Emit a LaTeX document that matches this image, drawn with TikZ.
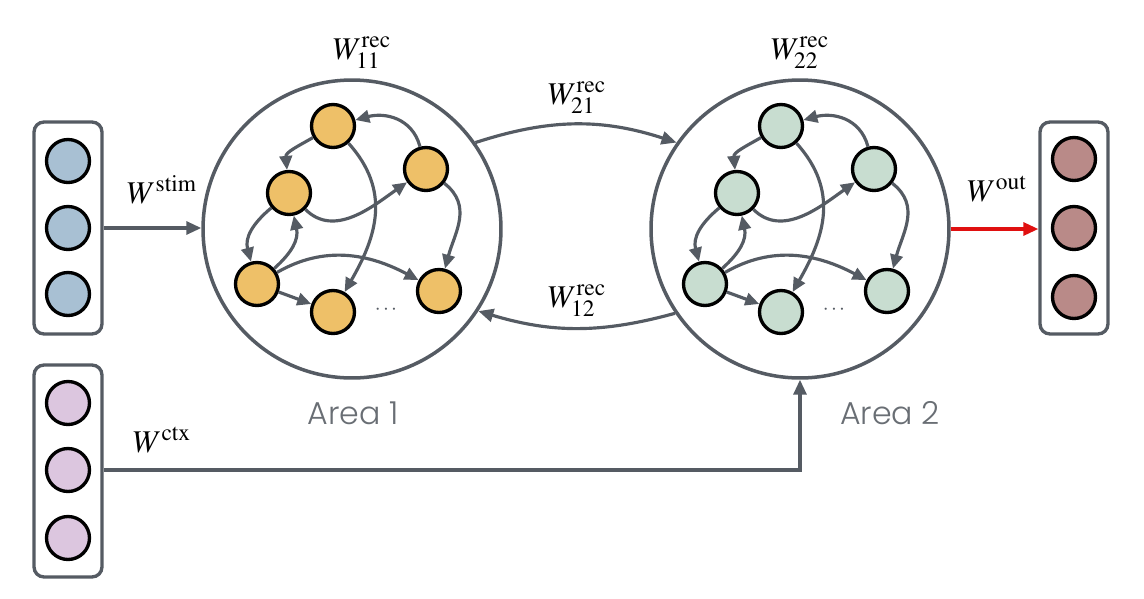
\documentclass[tikz,border=0pt]{standalone}
\usepackage{mathptmx}
\usepackage{fontspec}
\setmainfont{Liberation Serif}
\newfontfamily\areafont{Poppins Light}
\usetikzlibrary{arrows.meta}
\definecolor{linec}{RGB}{85,91,99}
\definecolor{areatext}{RGB}{105,110,116}
\definecolor{cOrange}{RGB}{238,192,104}
\definecolor{cGreen}{RGB}{200,221,208}
\definecolor{cBlue}{RGB}{168,192,211}
\definecolor{cPurple}{RGB}{220,198,223}
\definecolor{cRose}{RGB}{185,138,136}
\definecolor{cRed}{RGB}{224,16,16}
\tikzset{
  unit/.style={circle, draw=black, line width=1.9pt, minimum size=0.86cm, inner sep=0pt},
  areac/.style={circle, draw=linec, line width=2pt, minimum size=5.96cm, inner sep=0pt},
  inbox/.style={rectangle, rounded corners=0.2cm, draw=linec, line width=1.9pt, minimum width=1.36cm, minimum height=4.24cm, inner sep=0pt},
  arr/.style={draw=linec, line width=1.8pt, -{Triangle[length=0.3cm, width=0.26cm]}},
  iarr/.style={draw=linec, line width=1.8pt, -{Triangle[length=0.28cm, width=0.25cm]}},
  wlab/.style={font=\fontsize{18}{20}\selectfont, inner sep=0pt},
  arealab/.style={font=\areafont\fontsize{18}{20}\selectfont, text=areatext, inner sep=0pt}
}
\newcommand\drawarea[4]{%
  \begin{scope}[shift={(#2,#3)}]
    \node[unit, fill=#4] (#1a) at (-19,-103) {};
    \node[unit, fill=#4] (#1b) at (74,-60) {};
    \node[unit, fill=#4] (#1c) at (-63,-36) {};
    \node[unit, fill=#4] (#1d) at (-95,55) {};
    \node[unit, fill=#4] (#1e) at (-19,83) {};
    \node[unit, fill=#4] (#1f) at (87,62) {};
    \node[text=linec, font=\large, inner sep=0pt] (#1dots) at (34,81) {$\cdots$};
  \end{scope}
  \draw[iarr] (#1b) to[out=105, in=15, looseness=1.1] (#1a);
  \draw[iarr] (#1a) to[out=210, in=95, looseness=1.1] (#1c);
  \draw[iarr] (#1c) to[out=-45, in=215] (#1b);
  \draw[iarr] (#1c) to[out=220, in=105, looseness=1.1] (#1d);
  \draw[iarr] (#1d) to[out=42, in=-78, looseness=1.1] (#1c);
  \draw[iarr] (#1a) to[out=-48, in=60, looseness=1.1] (#1e);
  \draw[iarr] (#1b) to[out=-38, in=75, looseness=1.1] (#1f);
  \draw[iarr] (#1d) to[out=30, in=152] (#1f);
  \draw[iarr] (#1d) -- (#1e);
}
\begin{document}
\begin{tikzpicture}[x=0.02cm, y=-0.02cm]
\useasboundingbox (0,0) rectangle (1144,599);
% areas
\node[areac] (A1) at (352,229) {};
\node[areac] (A2) at (800,229) {};
\drawarea{p}{352}{229}{cOrange}
\drawarea{q}{800}{229}{cGreen}
% input boxes
\node[inbox] (stim) at (68,228) {};
\node[unit, fill=cBlue] (s1) at (68,161) {};
\node[unit, fill=cBlue] (s2) at (68,228) {};
\node[unit, fill=cBlue] (s3) at (68,294) {};
\node[inbox] (ctx) at (68,471) {};
\node[unit, fill=cPurple] (c1) at (68,403) {};
\node[unit, fill=cPurple] (c2) at (68,470) {};
\node[unit, fill=cPurple] (c3) at (68,538) {};
\node[inbox] (out) at (1074,228) {};
\node[unit, fill=cRose] (o1) at (1074,159) {};
\node[unit, fill=cRose] (o2) at (1074,228) {};
\node[unit, fill=cRose] (o3) at (1074,297) {};
% connectors
\draw[arr] (stim.east) -- (stim.east -| A1.west);
\draw[arr, draw=cRed] (A2.east) -- (A2.east -| out.west);
\draw[arr] (ctx.east |- c2) -| (A2.south);
\draw[arr] (A1.35) to[bend left=18] (A2.145);
\draw[arr] (A2.-146) to[bend left=16] (A1.-33);
% labels
\node[wlab] (l11) at (362,53) {$W^{\mathrm{rec}}_{11}$};
\node[wlab] (l22) at (800,53) {$W^{\mathrm{rec}}_{22}$};
\node[wlab] (l21) at (577,98) {$W^{\mathrm{rec}}_{21}$};
\node[wlab] (l12) at (577,301) {$W^{\mathrm{rec}}_{12}$};
\node[wlab] (lstim) at (162,190) {$W^{\mathrm{stim}}$};
\node[wlab] (lout) at (997,189) {$W^{\mathrm{out}}$};
\node[wlab] (lctx) at (162,440) {$W^{\mathrm{ctx}}$};
\node[arealab] (n1) at (353,413) {Area 1};
\node[arealab] (n2) at (890,413) {Area 2};
\end{tikzpicture}
\end{document}
